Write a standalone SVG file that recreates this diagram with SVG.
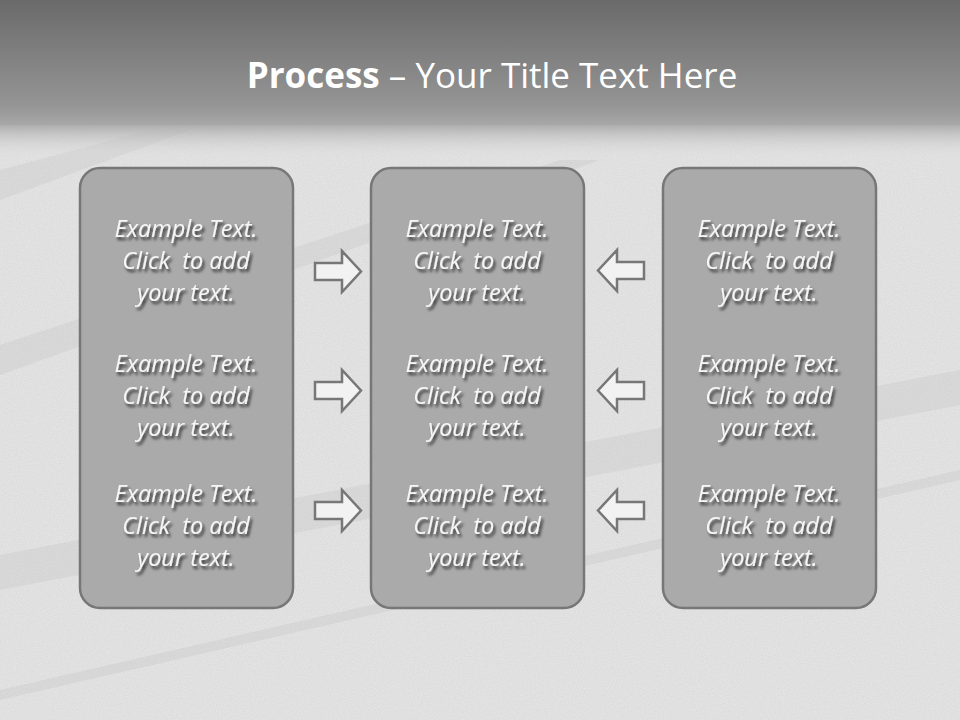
<svg xmlns="http://www.w3.org/2000/svg" width="960" height="720" viewBox="0 0 960 720">
<defs>
<linearGradient id="title" x1="0" y1="0" x2="0" y2="1">
<stop offset="0" stop-color="#6a6a6a"/>
<stop offset="0.85" stop-color="#959595"/>
<stop offset="1" stop-color="#a8a8a8"/>
</linearGradient>
<linearGradient id="fade" x1="0" y1="0" x2="0" y2="1">
<stop offset="0" stop-color="#a8a8a8" stop-opacity="0.9"/>
<stop offset="1" stop-color="#e4e4e4" stop-opacity="0"/>
</linearGradient>
<filter id="noise" x="0" y="0" width="100%" height="100%">
<feTurbulence type="fractalNoise" baseFrequency="0.85" numOctaves="2" seed="3" result="n"/>
<feColorMatrix type="matrix" values="0 0 0 0 0.45  0 0 0 0 0.45  0 0 0 0 0.45  0 0 0 0.3 0" in="n"/>
</filter>
<filter id="shadow" x="-10%" y="-20%" width="120%" height="150%">
<feGaussianBlur in="SourceAlpha" stdDeviation="1.5"/>
<feOffset dx="2" dy="2.5" result="b"/>
<feComponentTransfer><feFuncA type="linear" slope="0.75"/></feComponentTransfer>
<feMerge><feMergeNode/><feMergeNode in="SourceGraphic"/></feMerge>
</filter>
<style>
.box{fill:#aaaaaa;stroke:#777777;stroke-width:2.5}
.arrow{fill:#f2f2f2;stroke:#777777;stroke-width:2.5;stroke-linejoin:miter}
.t{font-family:"Open Sans","Liberation Sans",sans-serif;font-style:italic;font-size:23.5px;fill:#f6f6f6;text-anchor:middle}
.title{font-family:"Open Sans","Liberation Sans",sans-serif;font-size:35px;fill:#ffffff;text-anchor:middle}
.band{fill:#d4d4d4;opacity:0.55}
</style>
</defs>
<rect width="960" height="720" fill="#e8e8e8"/>
<g id="background">
<polygon class="band" points="0,170 150,130 190,130 0,200"/>
<polygon class="band" points="0,345 560,160 600,160 0,375"/>
<polygon class="band" points="0,555 960,370 960,405 0,590"/>
<polygon class="band" points="0,690 960,470 960,480 0,700" opacity="0.2"/>
<rect width="960" height="720" filter="url(#noise)"/>
</g>
<g id="titlebar">
<rect x="0" y="0" width="960" height="125" fill="url(#title)"/>
<rect x="0" y="125" width="960" height="35" fill="url(#fade)"/>
<text class="title" x="492" y="88"><tspan font-weight="bold">Process</tspan> – Your Title Text Here</text>
</g>
<g id="node-left">
<rect class="box" x="80" y="168" width="213" height="440" rx="20"/>
<g class="t" filter="url(#shadow)">
<text x="186" y="237">Example Text.</text><text x="186" y="269">Click&#160; to add</text><text x="186" y="301">your text.</text>
<text x="186" y="372">Example Text.</text><text x="186" y="404">Click&#160; to add</text><text x="186" y="436">your text.</text>
<text x="186" y="502">Example Text.</text><text x="186" y="534">Click&#160; to add</text><text x="186" y="566">your text.</text>
</g>
</g>
<g id="node-middle">
<rect class="box" x="371" y="168" width="213" height="440" rx="20"/>
<g class="t" filter="url(#shadow)">
<text x="477" y="237">Example Text.</text><text x="477" y="269">Click&#160; to add</text><text x="477" y="301">your text.</text>
<text x="477" y="372">Example Text.</text><text x="477" y="404">Click&#160; to add</text><text x="477" y="436">your text.</text>
<text x="477" y="502">Example Text.</text><text x="477" y="534">Click&#160; to add</text><text x="477" y="566">your text.</text>
</g>
</g>
<g id="node-right">
<rect class="box" x="663" y="168" width="213" height="440" rx="20"/>
<g class="t" filter="url(#shadow)">
<text x="769" y="237">Example Text.</text><text x="769" y="269">Click&#160; to add</text><text x="769" y="301">your text.</text>
<text x="769" y="372">Example Text.</text><text x="769" y="404">Click&#160; to add</text><text x="769" y="436">your text.</text>
<text x="769" y="502">Example Text.</text><text x="769" y="534">Click&#160; to add</text><text x="769" y="566">your text.</text>
</g>
</g>
<g id="connectors">
<polygon class="arrow" points="315,263 342,263 342,251 361,271.5 342,292 342,280 315,280"/>
<polygon class="arrow" points="315,382 342,382 342,370 361,390.5 342,411 342,399 315,399"/>
<polygon class="arrow" points="315,502 342,502 342,490 361,510.5 342,531 342,519 315,519"/>
<polygon class="arrow" points="644,262 617,262 617,250 598,270.5 617,291 617,279 644,279"/>
<polygon class="arrow" points="644,382 617,382 617,370 598,390.5 617,411 617,399 644,399"/>
<polygon class="arrow" points="644,502 617,502 617,490 598,510.5 617,531 617,519 644,519"/>
</g>
</svg>
